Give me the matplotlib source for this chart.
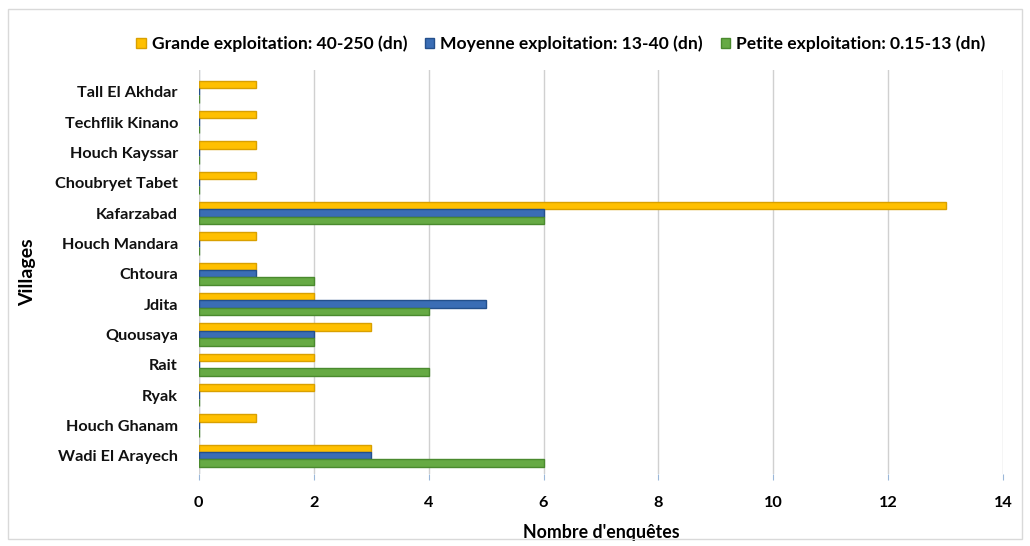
import numpy as np
import matplotlib
matplotlib.use("Agg")
import matplotlib.pyplot as plt
from matplotlib.patches import Rectangle

plt.rcParams['font.family'] = ['Lato', 'DejaVu Sans']

villages = ["Tall El Akhdar", "Techflik Kinano", "Houch Kayssar", "Choubryet Tabet",
            "Kafarzabad", "Houch Mandara", "Chtoura", "Jdita", "Quousaya", "Rait",
            "Ryak", "Houch Ghanam", "Wadi El Arayech"]
grande = [1, 1, 1, 1, 13, 1, 1, 2, 3, 2, 2, 1, 3]
moyenne = [0, 0, 0, 0, 6, 0, 1, 5, 2, 0, 0, 0, 3]
petite = [0, 0, 0, 0, 6, 0, 2, 4, 2, 4, 0, 0, 6]

series = [
    ("Grande exploitation: 40-250 (dn)", grande, "#FFC000", "#d9a000"),
    ("Moyenne exploitation: 13-40 (dn)", moyenne, "#3A6DB5", "#24508c"),
    ("Petite exploitation: 0.15-13 (dn)", petite, "#66AA44", "#4a8a2e"),
]

fig = plt.figure(figsize=(10.3, 5.46), dpi=100)
ax = fig.add_axes([0.193, 0.132, 0.781, 0.74])

y = np.arange(len(villages))
h = 0.245
for k, (name, vals, col, edge) in enumerate(series):
    ax.barh(y + (k - 1) * h, vals, height=h, color=col, edgecolor=edge,
            linewidth=1.0, label=name, zorder=3)

ax.set_ylim(12.6, -0.72)
ax.set_xlim(0, 14)
ax.set_xticks(np.arange(0, 15, 2))
ax.set_yticks(y)
ax.set_yticklabels(villages, fontsize=11.7, fontweight='bold', color='#111111')
ax.tick_params(axis='x', labelsize=11.7, length=4, color='#9bb7d9', pad=12)
for lab in ax.get_xticklabels():
    lab.set_fontweight('bold')
ax.tick_params(axis='y', length=0, pad=15)
ax.grid(axis='x', color='#d0d0d0', linewidth=1.0, zorder=0)
for s in ax.spines.values():
    s.set_visible(False)
ax.axvline(0, color='#c8d4e4', linewidth=1.0, zorder=1)

ax.set_xlabel("Nombre d'enquêtes", fontsize=12.8, fontweight='bold', labelpad=10)
ax.set_ylabel("Villages", fontsize=14, fontweight='bold', labelpad=14)

ax.legend(loc='lower center', bbox_to_anchor=(0.45, 1.0), ncol=3, frameon=False,
          prop={'size': 12.6, 'weight': 'bold'}, handlelength=0.55, handleheight=0.55,
          columnspacing=1.0, handletextpad=0.35, borderaxespad=0.6)

fig.patches.append(Rectangle((0.008, 0.012), 0.984, 0.972, transform=fig.transFigure,
                             fill=False, edgecolor='#d9d9d9', linewidth=1.0))

fig.savefig("out.png", dpi=100)
